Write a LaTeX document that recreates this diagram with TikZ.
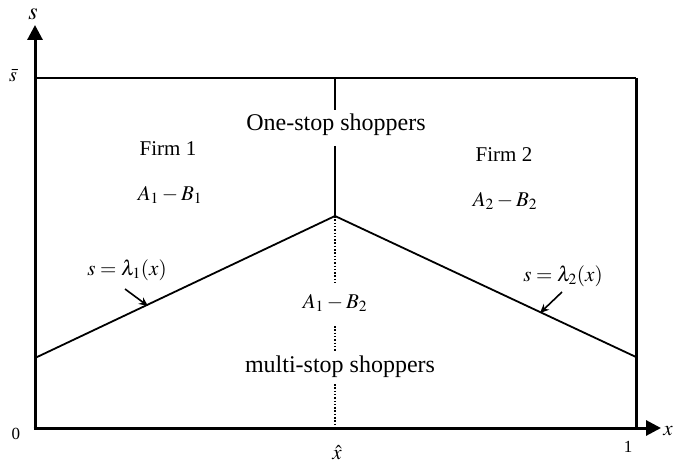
\documentclass[tikz,border=0pt]{standalone}
\usepackage{mathptmx}
\usepackage{fontspec}
\setmainfont{Liberation Serif}
\usetikzlibrary{arrows.meta}
\begin{document}
\begin{tikzpicture}[x=1pt,y=-1pt,
  axis/.style={line width=3pt,-{Triangle[length=15pt,width=15pt]}},
  frame/.style={line width=1.8pt},
  thin/.style={line width=1.8pt},
  dotl/.style={line width=1.8pt,dash pattern=on 1.5pt off 1.8pt},
  lbl/.style={inner sep=1pt,font=\fontsize{24}{26}\selectfont},
  firm/.style={inner sep=1pt,font=\fontsize{21}{23}\selectfont},
  mth/.style={inner sep=1pt,font=\fontsize{21}{23}\selectfont},
  ptr/.style={line width=1.6pt,-{Stealth[length=9pt,width=8pt]}}]
\useasboundingbox (0,0) rectangle (674,465);
\coordinate (O) at (35,428);
\coordinate (ytop) at (35,25);
\coordinate (xend) at (661,428);
\coordinate (sb) at (35,78);
\coordinate (tr) at (636,78);
\coordinate (br) at (636,428);
\coordinate (peak) at (335,216);
\coordinate (L) at (35,358);
\coordinate (R) at (636,357);
\coordinate (mtop) at (335,79);
\coordinate (mbot) at (335,428);
% frame
\draw[frame] (sb) -- (tr);
\draw[line width=3pt] (tr) -- (br);
\draw[axis] ([yshift=-1.5pt]O) -- (ytop);
\draw[axis] ([xshift=-1.5pt]O) -- (xend);
% axis labels
\node[inner sep=1pt,font=\fontsize{24}{26}\selectfont] (slab) at (33,14) {$s$};
\node[inner sep=1pt,font=\fontsize{20}{22}\selectfont] (sbar) at (13,76) {$\bar{s}$};
\node[inner sep=1pt,font=\fontsize{17}{19}\selectfont] (zero) at (16,434) {0};
\node[inner sep=1pt,font=\fontsize{17}{19}\selectfont] (one) at (628,447) {1};
\node[inner sep=1pt,font=\fontsize{21}{23}\selectfont] (xlab) at (668,431) {$x$};
\node[inner sep=1pt,font=\fontsize{21}{23}\selectfont] (xhat) at (337,453) {$\hat{x}$};
% middle text
\node[lbl] (one-stop) at (336,125) {One-stop shoppers};
\node[mth] (a1b2) at (335,303) {$A_1-B_2$};
\node[lbl] (multi) at (340,367) {multi-stop shoppers};
\node[firm] (firm1) at (168,149) {Firm 1};
\node[mth] (a1b1) at (170,195) {$A_1-B_1$};
\node[firm] (firm2) at (504,155) {Firm 2};
\node[mth] (a2b2) at (505,201) {$A_2-B_2$};
% middle lines
\draw[thin] (mtop) -- (335,110);
\draw[thin] (335,146) -- (peak);
\draw[dotl] (peak) -- (335,283);
\draw[dotl] (335,326) -- (335,352);
\draw[dotl] (335,384) -- (mbot);
% lambda lines
\draw[thin] (L) -- (peak) -- (R);
% labels with pointers
\node[mth] (lam1) at (127,270) {$s=\lambda_1(x)$};
\node[mth] (lam2) at (563,276) {$s=\lambda_2(x)$};
\coordinate (p1) at (148,306);
\coordinate (p2) at (540,313);
\draw[ptr] (125,289) -- (p1);
\draw[ptr] (562,292) -- (p2);
\end{tikzpicture}
\end{document}
